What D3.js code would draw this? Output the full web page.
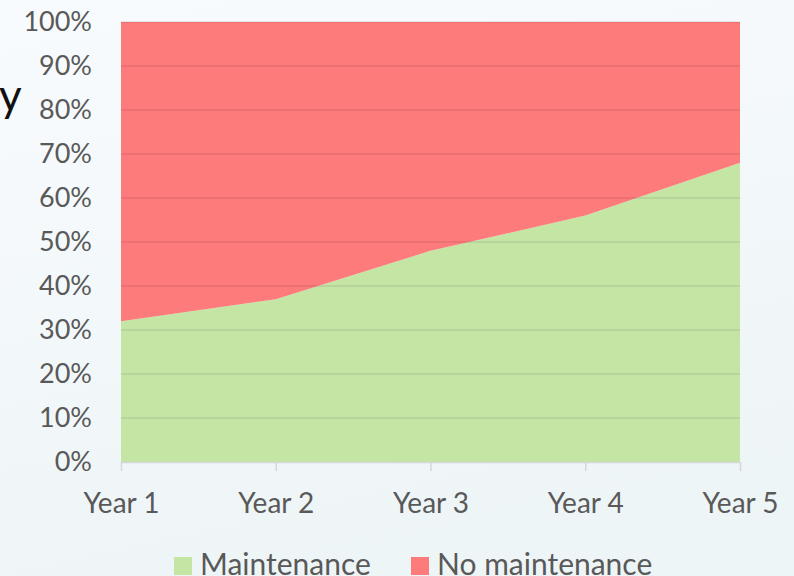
<!DOCTYPE html>
<html><head><meta charset="utf-8">
<script src="https://cdn.jsdelivr.net/npm/d3@7"></script>
<style>html,body{margin:0;padding:0;overflow:hidden;}svg{display:block;}</style>
</head><body>
<script>
const categories = ["Year 1","Year 2","Year 3","Year 4","Year 5"];
const maintenance = [32,37,48,56,68];
const noMaintenance = [68,63,52,44,32];
const yTicks = [0,10,20,30,40,50,60,70,80,90,100];
const seriesNames = ["Maintenance","No maintenance"];
const colors = ["#c5e5a5","#fd7b7b"];

const W=794,H=576;
const svg=d3.select("body").append("svg").attr("width",W).attr("height",H);
const defs=svg.append("defs");
const g=defs.append("linearGradient").attr("id","bg").attr("x1",0).attr("y1",0).attr("x2",0.3).attr("y2",1);
g.append("stop").attr("offset","0%").attr("stop-color","#f8fbfd");
g.append("stop").attr("offset","100%").attr("stop-color","#eef5f7");
svg.append("rect").attr("width",W).attr("height",H).attr("fill","url(#bg)");

const font="Lato, 'Open Sans', sans-serif";
svg.append("text").attr("x",-1).attr("y",111).attr("font-family",font).attr("font-size",44).attr("fill","#111").text("y");

const x=d3.scalePoint().domain(categories).range([121,740]);
const y=d3.scaleLinear().domain([0,100]).range([462,22]);

const table=categories.map((c,i)=>({cat:c,"Maintenance":maintenance[i],"No maintenance":noMaintenance[i]}));
const stack=d3.stack().keys(seriesNames)(table);
const area=d3.area().x(d=>x(d.data.cat)).y0(d=>y(d[0])).y1(d=>y(d[1]));
svg.selectAll("path.a").data(stack).enter().append("path").attr("class","a")
  .attr("d",area).attr("fill",(d,i)=>colors[i]);

// gridlines
svg.selectAll("line.grid").data(yTicks.filter(t=>t>0)).enter().append("line")
  .attr("x1",121).attr("x2",740).attr("y1",d=>y(d)).attr("y2",d=>y(d))
  .attr("stroke","rgba(0,0,0,0.09)").attr("stroke-width",1.5);

// y axis labels
const ya=svg.append("g").attr("transform","translate(92,0)")
  .call(d3.axisLeft(y).tickValues(yTicks).tickFormat(d=>d+"%").tickSize(0).tickPadding(0));
ya.select(".domain").remove();
ya.selectAll("text").attr("font-family",font).attr("font-size",27).attr("fill","#595959");

// x axis
const xa=svg.append("g").attr("transform","translate(0,462)")
  .call(d3.axisBottom(x).tickSize(9).tickPadding(22).tickSizeOuter(0));
xa.select(".domain").attr("stroke","#d4d8da").attr("stroke-width",1.5).attr("d","M121,0.5H740");
xa.selectAll(".tick line").attr("stroke","#d4d8da").attr("stroke-width",1.5);
xa.selectAll("text").attr("font-family",font).attr("font-size",28).attr("fill","#595959");

// legend
const leg=[{n:seriesNames[0],c:colors[0],x:174},{n:seriesNames[1],c:colors[1],x:411}];
leg.forEach(l=>{
  svg.append("rect").attr("x",l.x).attr("y",557).attr("width",18).attr("height",18).attr("fill",l.c);
  svg.append("text").attr("x",l.x+26).attr("y",575).attr("font-family",font).attr("font-size",30).attr("fill","#595959").text(l.n);
});
</script>
</body></html>
